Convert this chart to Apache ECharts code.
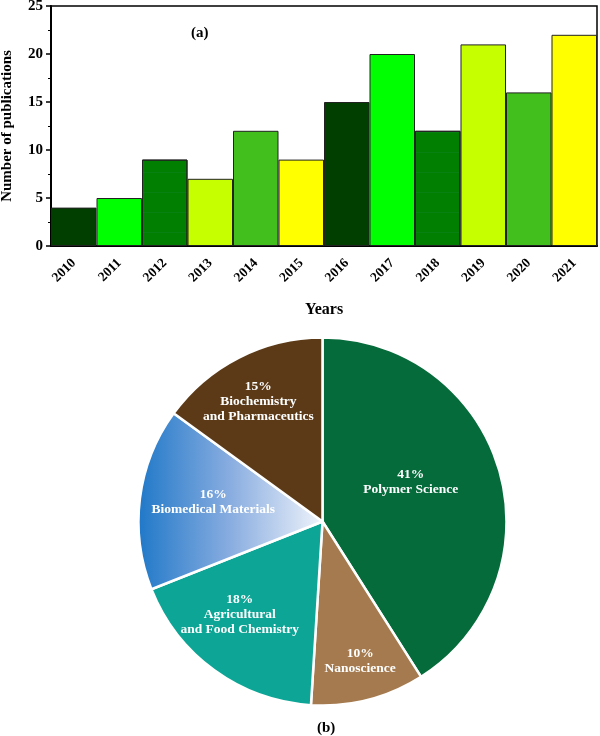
<!DOCTYPE html>
<html>
<head>
<meta charset="utf-8">
<script src="https://cdn.jsdelivr.net/npm/echarts@6/dist/echarts.min.js"></script>
<style>
html,body{margin:0;padding:0;background:#fff;}
#c{width:600px;height:736px;}
</style>
</head>
<body>
<div id="c"></div>
<script>
// ---- data ----
var years = ['2010','2011','2012','2013','2014','2015','2016','2017','2018','2019','2020','2021'];
var publications = [4, 5, 9, 7, 12, 9, 15, 20, 12, 21, 16, 22];
var yTicks = [0, 5, 10, 15, 20, 25];
var fields = ['Polymer Science', 'Nanoscience', 'Agricultural\nand Food Chemistry', 'Biomedical Materials', 'Biochemistry\nand Pharmaceutics'];
var fieldShares = [41, 10, 18, 16, 15];

// ---- styles ----
var barColors = ['#003f00','#00ff00','#007f00','#c6ff00','#42bf1c','#ffff00','#003f00','#00ff00','#007f00','#c6ff00','#42bf1c','#ffff00'];
var dotted = [false,false,true,false,false,false,false,false,true,false,false,false];
var pieColors = [
  '#066b3b',
  '#a57a4e',
  '#0ca596',
  {type:'linear', x:0, y:0, x2:1, y2:0, colorStops:[{offset:0,color:'#1f78c8'},{offset:0.5,color:'#89ade0'},{offset:1,color:'#f0f4fb'}]},
  '#5c3a17'
];
var labelOffsets = [[-3,-13],[14,48],[-27,16],[-15,-8],[-21,-35]];

var FONT = '"Liberation Serif","Times New Roman",serif';
var minorCats = [];
years.forEach(function(){ for (var k = 0; k < 5; k++) minorCats.push(''); });

var chart = echarts.init(document.getElementById('c'), null, {renderer:'canvas'});
chart.setOption({
  animation: false,
  backgroundColor: '#fff',
  title: [
    {text: '(a)', left: 186, top: 21,
     textStyle: {fontFamily: FONT, fontWeight: 'bold', fontSize: 15, color: '#000'}},
    {text: '(b)', left: 312, top: 716,
     textStyle: {fontFamily: FONT, fontWeight: 'bold', fontSize: 15, color: '#000'}}
  ],
  grid: {left: 51, right: 3, top: 6, height: 240, show: true, borderColor: '#000', borderWidth: 1.5,
         backgroundColor: 'transparent', outerBoundsMode: 'none', containLabel: false},
  xAxis: [
    {
      type: 'category', data: years, boundaryGap: true,
      axisLine: {lineStyle: {color: '#000', width: 2}},
      axisTick: {alignWithLabel: true, length: 6, lineStyle: {color: '#000', width: 1.5}},
      axisLabel: {rotate: 45, interval: 0, margin: 15, fontFamily: FONT, fontWeight: 'bold', fontSize: 13.5, color: '#000'},
      name: 'Years', nameLocation: 'middle', nameGap: 56,
      nameTextStyle: {fontFamily: FONT, fontWeight: 'bold', fontSize: 16, color: '#000'},
      splitLine: {show: false}
    },
    {
      type: 'category', data: minorCats, boundaryGap: true, position: 'bottom',
      axisLine: {show: false},
      axisTick: {alignWithLabel: true, interval: 0, length: 3, lineStyle: {color: '#000', width: 1}},
      axisLabel: {show: false},
      splitLine: {show: false}
    }
  ],
  yAxis: {
    type: 'value', min: yTicks[0], max: yTicks[yTicks.length - 1], interval: yTicks[1] - yTicks[0],
    axisLine: {show: true, lineStyle: {color: '#000', width: 2}},
    axisTick: {show: true, length: 5, lineStyle: {color: '#000', width: 1.5}},
    minorTick: {show: true, splitNumber: 2, length: 3, lineStyle: {color: '#000', width: 1}},
    axisLabel: {margin: 8, fontFamily: FONT, fontWeight: 'bold', fontSize: 15, color: '#000'},
    splitLine: {show: false},
    name: 'Number of publications', nameLocation: 'middle', nameRotate: 90, nameGap: 36,
    nameTextStyle: {fontFamily: FONT, fontWeight: 'bold', fontSize: 15, color: '#000'}
  },
  series: [
    {
      type: 'bar', xAxisIndex: 0, yAxisIndex: 0,
      barCategoryGap: 0,
      data: publications.map(function(v, i){
        var st = {color: barColors[i], borderColor: '#222', borderWidth: 1};
        if (dotted[i]) st.decal = {symbol: 'circle', symbolSize: 0.35, color: 'rgba(110,170,255,0.55)', dashArrayX: [[1,0],[0,1]], dashArrayY: [5,5]};
        return {value: v, itemStyle: st};
      })
    },
    {
      type: 'pie', center: [322.5, 521.5], radius: 184, startAngle: 90, clockwise: true,
      avoidLabelOverlap: false,
      itemStyle: {borderColor: '#fff', borderWidth: 2.5},
      label: {show: true, position: 'inside', color: '#fff', fontFamily: FONT, fontWeight: 'bold', fontSize: 13.5, lineHeight: 15,
        formatter: function(p){ return p.value + '%\n' + p.name; }},
      labelLine: {show: false},
      emphasis: {disabled: true},
      data: fields.map(function(n, i){
        return {name: n, value: fieldShares[i], itemStyle: {color: pieColors[i]}, label: {offset: labelOffsets[i]}};
      })
    }
  ]
});
</script>
</body>
</html>
